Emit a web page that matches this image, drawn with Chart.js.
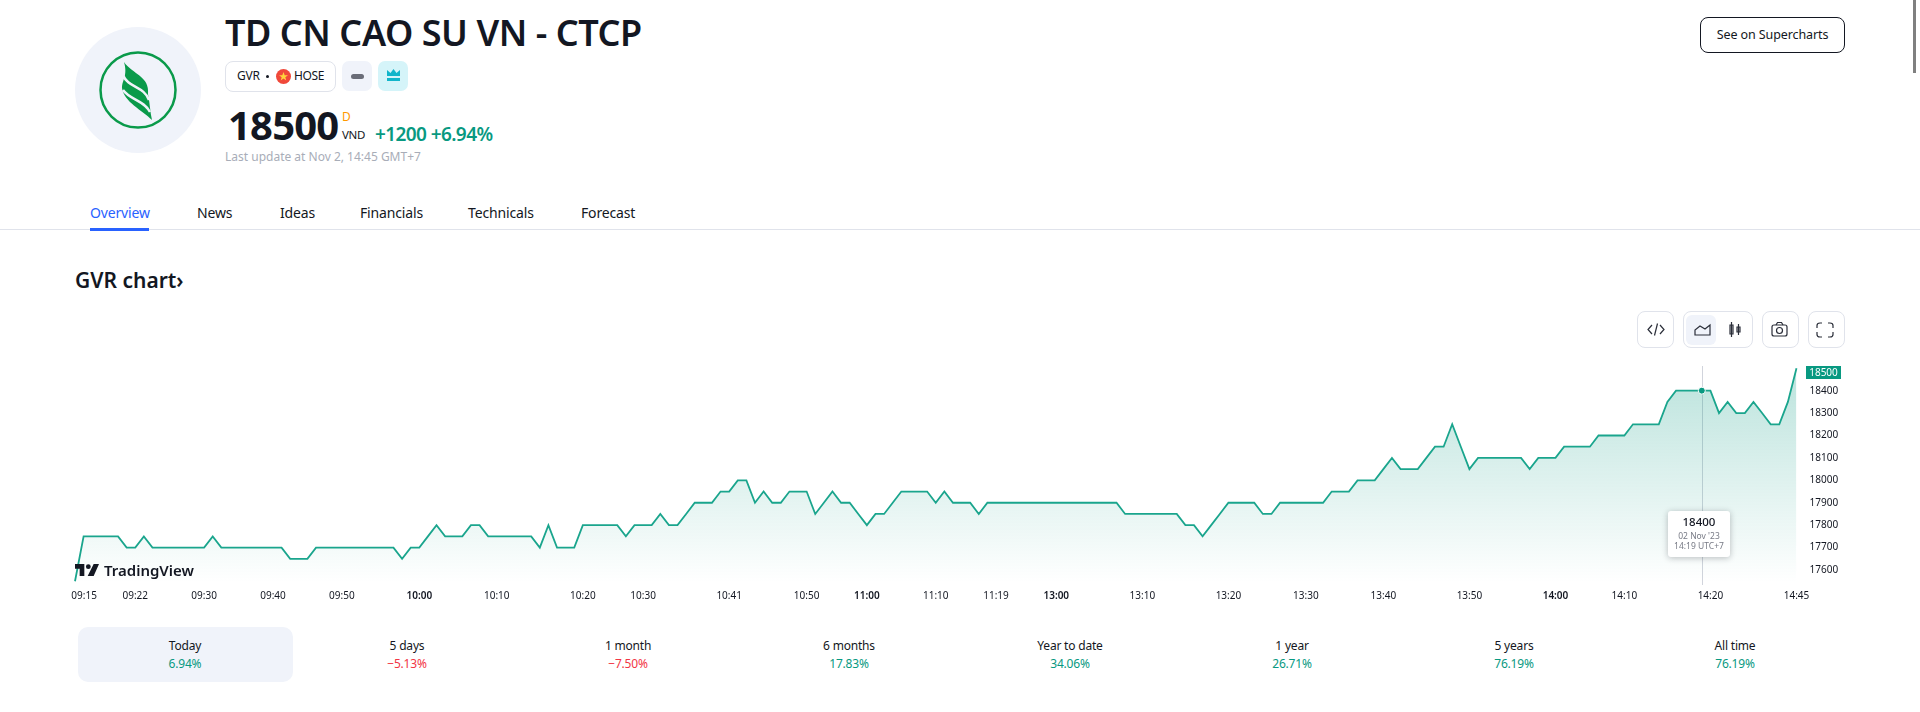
<!DOCTYPE html>
<html>
<head>
<meta charset="utf-8">
<title>GVR chart</title>
<script src="https://cdn.jsdelivr.net/npm/chart.js@4"></script>
<style>
	html, body { margin: 0; background: #fff; width: 1920px; height: 712px; overflow: hidden; }
	body { font-family: "Noto Sans", sans-serif; color: #131722; position: relative; }
	.abs { position: absolute; white-space: nowrap; }
	.up { color: #089981; }
	.down { color: #f23645; }
	.box { position: absolute; border: 1px solid #e0e3eb; border-radius: 8px; box-sizing: border-box; }
	.tab { position: absolute; top: 203px; font-size: 14px; line-height: 20px; letter-spacing: -0.15px; white-space: nowrap; }
	.period { position: absolute; top: 636px; width: 200px; margin-left: -100px; text-align: center; font-size: 12px; line-height: 20px; letter-spacing: -0.2px; }
	.period div + div { margin-top: -2px; font-size: 12px; }
	#chartWrap { position: absolute; left: 60px; top: 350px; width: 1800px; height: 262px; }
	#tip { position: absolute; left: 1668px; top: 511px; width: 62px; height: 46px; background: #fff; border-radius: 3px; box-shadow: 0 1px 6px rgba(19,23,34,.28); text-align: center; }
	#badge { position: absolute; left: 1806px; top: 366px; width: 35px; height: 13px; background: #089981; color: #fff; font-size: 10px; line-height: 13px; text-align: center; }
</style>
</head>
<body>

<!-- header -->
<div class="abs" style="left:75px;top:27px;width:126px;height:126px;border-radius:50%;background:#f0f3fa"></div>
<svg class="abs" style="left:98px;top:50px" width="80" height="80" viewBox="0 0 80 80">
	<circle cx="40" cy="40" r="37.5" fill="none" stroke="#0a9a4a" stroke-width="2.5"/>
	<path d="M26 12 C34 24 52 26 50 44 C52 54 52 62 54 70 C44 60 26 52 24 38 C24 30 30 26 26 12Z" fill="#0a9a4a"/>
	<path d="M25 25 C30 38 46 36 51 50 M25 40 C32 50 46 50 52 62" fill="none" stroke="#f0f3fa" stroke-width="2.5"/>
</svg>

<div class="abs" id="title" style="left:225px;top:9px;font-size:36px;line-height:48px;font-weight:600;letter-spacing:-0.45px">TD CN CAO SU VN - CTCP</div>

<div class="box" style="left:225px;top:61px;width:111px;height:31px"></div>
<div class="abs" style="left:237px;top:66px;font-size:12px;line-height:20px;letter-spacing:-0.2px">GVR</div>
<div class="abs" style="left:266px;top:75px;width:3px;height:3px;border-radius:50%;background:#131722"></div>
<svg class="abs" style="left:276px;top:69px" width="15" height="15" viewBox="0 0 15 15">
	<circle cx="7.5" cy="7.5" r="7.5" fill="#f0483a"/>
	<path d="M7.5 3 L8.7 6.3 L12 6.3 L9.3 8.3 L10.3 11.6 L7.5 9.6 L4.7 11.6 L5.7 8.3 L3 6.3 L6.3 6.3Z" fill="#ffd23c"/>
</svg>
<div class="abs" style="left:294px;top:66px;font-size:12px;line-height:20px;letter-spacing:-0.4px">HOSE</div>
<div class="abs" style="left:342px;top:61px;width:30px;height:30px;border-radius:7px;background:#f0f3fa"></div>
<div class="abs" style="left:351px;top:74px;width:13px;height:5px;border-radius:3px;background:#6a6d78"></div>
<div class="abs" style="left:378px;top:61px;width:30px;height:30px;border-radius:7px;background:#d5f4f9"></div>
<svg class="abs" style="left:386px;top:68px" width="15" height="15" viewBox="0 0 15 15">
	<path d="M1 8 L1 2 L4.5 5 L7.5 1 L10.5 5 L14 2 L14 8Z M1 10 H14 V13 H1Z" fill="#11b5ca"/>
</svg>

<div class="abs" id="price" style="left:228px;top:97px;font-size:40px;line-height:56px;font-weight:700;letter-spacing:-0.8px">18500</div>
<div class="abs" style="left:342px;top:109px;font-size:12px;line-height:16px;color:#ff9800">D</div>
<div class="abs" style="left:342px;top:127px;font-size:11.5px;line-height:16px;letter-spacing:-0.3px">VND</div>
<div class="abs up" id="change" style="left:375px;top:120px;font-size:19px;line-height:28px;font-weight:600;letter-spacing:-0.6px">+1200 +6.94%</div>
<div class="abs" id="updated" style="left:225px;top:147px;font-size:12px;line-height:20px;color:#a8adb8">Last update at Nov 2, 14:45 GMT+7</div>

<div class="abs" style="left:1700px;top:17px;width:145px;height:36px;border:1px solid #131722;border-radius:8px;box-sizing:border-box;text-align:center;font-size:12.5px;line-height:34px;letter-spacing:-0.1px">See on Supercharts</div>
<div class="abs" style="left:1913px;top:0;width:3px;height:73px;background:#808080"></div>

<!-- tabs -->
<div class="abs" style="left:0;top:229px;width:1920px;height:1px;background:#e0e3eb"></div>
<div class="tab" style="left:90px;color:#2962ff">Overview</div>
<div class="abs" style="left:90px;top:228px;width:59px;height:3px;background:#2962ff"></div>
<div class="tab" style="left:197px">News</div>
<div class="tab" style="left:280px">Ideas</div>
<div class="tab" style="left:360px">Financials</div>
<div class="tab" style="left:468px">Technicals</div>
<div class="tab" style="left:581px">Forecast</div>

<div class="abs" id="chartTitle" style="left:75px;top:264px;font-size:21px;line-height:32px;font-weight:600">GVR chart›</div>

<!-- chart toolbar -->
<div class="box" style="left:1637px;top:311px;width:37px;height:37px"></div>
<div class="box" style="left:1683px;top:311px;width:70px;height:37px"></div>
<div class="abs" style="left:1686px;top:315px;width:30px;height:30px;border-radius:6px;background:#f0f3fa"></div>
<div class="box" style="left:1762px;top:311px;width:37px;height:37px"></div>
<div class="box" style="left:1808px;top:311px;width:37px;height:37px"></div>
<svg class="abs" style="left:1637px;top:311px" width="208" height="37" viewBox="0 0 208 37" fill="none" stroke="#2a2e39" stroke-width="1.2">
	<path d="M15 14 L11 18.5 L15 23 M23 14 L27 18.5 L23 23 M20.5 12.5 L17.5 24.5"/>
	<path d="M58 24 V19 L63 15 L68 18 L73 14 V24Z"/>
	<path d="M93 14 H96 V23 H93Z M94.5 11 V26 M100 16 H103 V21 H100Z M101.5 13 V24"/>
	<rect x="135" y="14" width="15" height="11" rx="2"/><circle cx="142.5" cy="19.5" r="3"/><path d="M139 14 L140.5 11.5 H144.5 L146 14"/>
	<path d="M180 17 V14.5 Q180 12 183 12 H185 M191 12 H193 Q196 12 196 14.5 V17 M196 21 V23.5 Q196 26 193 26 H191 M185 26 H183 Q180 26 180 23.5 V21"/>
</svg>

<!-- chart -->
<div id="chartWrap"><canvas id="gvrChart" width="1800" height="262"></canvas></div>

<svg class="abs" style="left:75px;top:564px" width="24" height="12" viewBox="0 0 36 18">
	<path d="M0 0 H14 V18 H7 V7 H0Z M28 0 H36 L28 18 H19Z" fill="#131722"/><circle cx="20" cy="4" r="3.6" fill="#131722"/>
</svg>
<div class="abs" id="tvLogo" style="left:104px;top:558px;font-size:15px;line-height:24px;font-weight:600">TradingView</div>

<div id="badge">18500</div>
<div id="tip">
	<div style="font-size:11.5px;line-height:14px;margin-top:4px;font-weight:500">18400</div>
	<div style="font-size:8.5px;line-height:10px;margin-top:2px;color:#787b86">02 Nov '23</div>
	<div style="font-size:8.5px;line-height:10px;color:#787b86">14:19 UTC+7</div>
</div>

<!-- periods -->
<div class="abs" style="left:78px;top:627px;width:215px;height:55px;border-radius:10px;background:#f0f3fa"></div>
<div id="periods"></div>

<script>
const categories = [
	"09:15", "", "", "", "", "", "", "09:22", "", "",
	"", "", "", "", "", "09:30", "", "", "", "",
	"", "", "", "09:40", "", "", "", "", "", "",
	"", "09:50", "", "", "", "", "", "", "", "",
	"10:00", "", "", "", "", "", "", "", "", "10:10",
	"", "", "", "", "", "", "", "", "", "10:20",
	"", "", "", "", "", "", "10:30", "", "", "",
	"", "", "", "", "", "", "10:41", "", "", "",
	"", "", "", "", "", "10:50", "", "", "", "",
	"", "", "11:00", "", "", "", "", "", "", "",
	"11:10", "", "", "", "", "", "", "11:19", "", "",
	"", "", "", "", "13:00", "", "", "", "", "",
	"", "", "", "", "13:10", "", "", "", "", "",
	"", "", "", "", "13:20", "", "", "", "", "",
	"", "", "", "13:30", "", "", "", "", "", "",
	"", "", "13:40", "", "", "", "", "", "", "",
	"", "", "13:50", "", "", "", "", "", "", "",
	"", "", "14:00", "", "", "", "", "", "", "",
	"14:10", "", "", "", "", "", "", "", "", "",
	"14:20", "", "", "", "", "", "", "", "", "",
	"14:45",
];
const prices = [
	17550, 17750, 17750, 17750, 17750, 17750, 17700, 17700, 17750, 17700,
	17700, 17700, 17700, 17700, 17700, 17700, 17750, 17700, 17700, 17700,
	17700, 17700, 17700, 17700, 17700, 17650, 17650, 17650, 17700, 17700,
	17700, 17700, 17700, 17700, 17700, 17700, 17700, 17700, 17650, 17700,
	17700, 17750, 17800, 17750, 17750, 17750, 17800, 17800, 17750, 17750,
	17750, 17750, 17750, 17750, 17700, 17800, 17700, 17700, 17700, 17800,
	17800, 17800, 17800, 17800, 17750, 17800, 17800, 17800, 17850, 17800,
	17800, 17850, 17900, 17900, 17900, 17950, 17950, 18000, 18000, 17900,
	17950, 17900, 17900, 17950, 17950, 17950, 17850, 17900, 17950, 17900,
	17900, 17850, 17800, 17850, 17850, 17900, 17950, 17950, 17950, 17950,
	17900, 17950, 17900, 17900, 17900, 17850, 17900, 17900, 17900, 17900,
	17900, 17900, 17900, 17900, 17900, 17900, 17900, 17900, 17900, 17900,
	17900, 17900, 17850, 17850, 17850, 17850, 17850, 17850, 17850, 17800,
	17800, 17750, 17800, 17850, 17900, 17900, 17900, 17900, 17850, 17850,
	17900, 17900, 17900, 17900, 17900, 17900, 17950, 17950, 17950, 18000,
	18000, 18000, 18050, 18100, 18050, 18050, 18050, 18100, 18150, 18150,
	18250, 18150, 18050, 18100, 18100, 18100, 18100, 18100, 18100, 18050,
	18100, 18100, 18100, 18150, 18150, 18150, 18150, 18200, 18200, 18200,
	18200, 18250, 18250, 18250, 18250, 18350, 18400, 18400, 18400, 18400,
	18400, 18300, 18350, 18300, 18300, 18350, 18300, 18250, 18250, 18350,
	18500,
];
const priceTicks = [17600, 17700, 17800, 17900, 18000, 18100, 18200, 18300, 18400];
const boldTimes = ["10:00", "11:00", "13:00", "14:00"];
const periodNames = ["Today", "5 days", "1 month", "6 months", "Year to date", "1 year", "5 years", "All time"];
const periodChanges = ["6.94%", "−5.13%", "−7.50%", "17.83%", "34.06%", "26.71%", "76.19%", "76.19%"];
const periodCenters = [185, 407, 628, 849, 1070, 1292, 1514, 1735];
const hoverIndex = 189;

const green = "#089981";
const axisFont = "'Noto Sans', sans-serif";

periodNames.forEach((name, i) => {
	const cls = periodChanges[i].startsWith("−") ? "down" : "up";
	document.getElementById("periods").insertAdjacentHTML(
		"beforeend",
		`<div class="period" style="left:${periodCenters[i]}px"><div>${name}</div><div class="${cls}">${periodChanges[i]}</div></div>`
	);
});

// vertical crosshair at the hovered bar
const crosshair = {
	id: "crosshair",
	beforeDatasetsDraw(chart) {
		const x = chart.scales.x.getPixelForValue(hoverIndex);
		const { ctx, chartArea } = chart;
		ctx.save();
		ctx.strokeStyle = "#d1d4dc";
		ctx.lineWidth = 1;
		ctx.beginPath();
		ctx.moveTo(Math.round(x) + 0.5, chartArea.top);
		ctx.lineTo(Math.round(x) + 0.5, chartArea.bottom + 2);
		ctx.stroke();
		ctx.restore();
	},
};

const gvrChart = new Chart(document.getElementById("gvrChart"), {
	type: "line",
	data: {
		labels: categories,
		datasets: [
			{
				data: prices,
				borderColor: "#1aa58d",
				borderWidth: 1.8,
				tension: 0,
				fill: "start",
				backgroundColor: (c) => {
					const area = c.chart.chartArea;
					if (!area) return "transparent";
					const g = c.chart.ctx.createLinearGradient(0, area.top, 0, area.bottom);
					g.addColorStop(0, "rgba(8,153,129,0.28)");
					g.addColorStop(1, "rgba(8,153,129,0)");
					return g;
				},
				pointRadius: (c) => (c.dataIndex === hoverIndex ? 3.5 : 0),
				pointBackgroundColor: green,
				pointBorderColor: "#fff",
				pointBorderWidth: 1,
				clip: false,
			},
		],
	},
	plugins: [crosshair],
	options: {
		responsive: false,
		animation: false,
		events: [],
		layout: { padding: { left: 15, top: 16, right: 0, bottom: 0 } },
		plugins: { legend: { display: false }, tooltip: { enabled: false } },
		scales: {
			x: {
				grid: { display: false, drawTicks: false },
				border: { display: false },
				afterFit: (scale) => {
					scale.height = 29;
					scale.paddingLeft = 0;
					scale.paddingRight = 0;
				},
				ticks: {
					autoSkip: false,
					maxRotation: 0,
					minRotation: 0,
					padding: 7,
					color: "#131722",
					font: (c) => ({
						family: axisFont,
						size: 10,
						weight: boldTimes.includes(c.tick && c.tick.label) ? "600" : "400",
					}),
					callback(value, index) {
						const label = this.getLabelForValue(value);
						// first label sits to the right of its tick
						return index === 0 ? "\u00a0\u00a0\u00a0\u00a0\u00a0\u00a0\u00a0" + label : label;
					},
				},
			},
			y: {
				position: "right",
				min: 17542,
				max: 18510,
				grid: { display: false, drawTicks: false },
				border: { display: false },
				afterFit: (scale) => {
					scale.width = 63.5;
					scale.paddingTop = 0;
					scale.paddingBottom = 0;
				},
				afterBuildTicks: (scale) => { scale.ticks = priceTicks.map((value) => ({ value })); },
				ticks: {
					padding: 13,
					color: "#131722",
					font: { family: axisFont, size: 10 },
					callback: (value) => String(value),
				},
			},
		},
	},
});
</script>
</body>
</html>
